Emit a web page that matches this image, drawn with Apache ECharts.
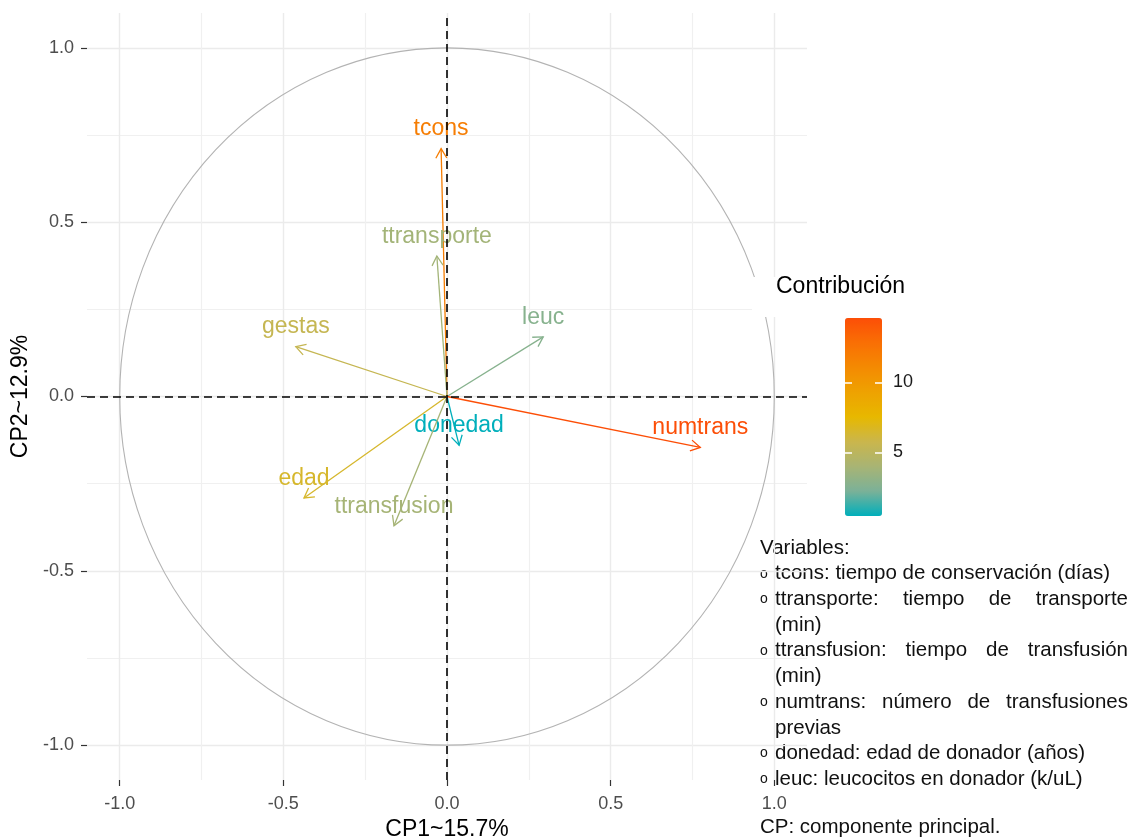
<!DOCTYPE html>
<html>
<head>
<meta charset="utf-8">
<title>Círculo de correlación CP1 / CP2</title>
<script src="https://cdn.jsdelivr.net/npm/echarts@6/dist/echarts.min.js"></script>
<style>
  html, body { margin: 0; padding: 0; background: #fff; }
  #chart { width: 1140px; height: 839px; }
</style>
</head>
<body>
<div id="chart"></div>
<script>
  // variable coordinates on CP1 / CP2 and their contribution
  const varNames = ['tcons', 'ttransporte', 'gestas', 'leuc', 'donedad', 'edad', 'ttransfusion', 'numtrans'];
  const cp1 = [-0.018, -0.031, -0.462, 0.294, 0.037, -0.437, -0.162, 0.774];
  const cp2 = [0.711, 0.403, 0.143, 0.171, -0.14, -0.291, -0.371, -0.146];
  const contrib = [11.9, 3.8, 5.5, 2.7, 0.45, 6.5, 3.9, 14.6];

  // unit circle: center x, center y, radius
  const circleData = [[0, 0, 1]];

  const axisTicks = [-1, -0.5, 0, 0.5, 1];
  const minorTicks = [-0.75, -0.25, 0.25, 0.75];
  const contribTicks = [5, 10];

  // gradient teal -> yellow -> orange (Lab-like stops)
  const gradientCols = ['#00AFBB', '#7BB198', '#A8B474', '#CAB64C', '#E7B800', '#EEA201', '#F48A02', '#F96F04', '#FC4E07'];

  const noteLines = [
    { text: 'tcons: tiempo de conservación (días)', bullet: true },
    { text: 'ttransporte: tiempo de transporte', bullet: true, justify: true },
    { text: '(min)' },
    { text: 'ttransfusion: tiempo de transfusión', bullet: true, justify: true },
    { text: '(min)' },
    { text: 'numtrans: número de transfusiones', bullet: true, justify: true },
    { text: 'previas' },
    { text: 'donedad: edad de donador (años)', bullet: true },
    { text: 'leuc: leucocitos en donador (k/uL)', bullet: true },
  ];

  const FONT = '"Liberation Sans", Arial, sans-serif';
  const NOTE_SIZE = 20.5;

  const arrowData = varNames.map((n, i) => [cp1[i], cp2[i], contrib[i]]);
  const cMin = Math.min(...contrib);
  const cMax = Math.max(...contrib);

  // note block on the right, justified lines spread word by word
  const measureCtx = document.createElement('canvas').getContext('2d');
  measureCtx.font = NOTE_SIZE + 'px ' + FONT;

  const buildNotes = () => {
    const els = [];
    const textLeft = 775;
    const textRight = 1128;
    const top = 548;
    const step = 25.7;
    const txt = (x, y, s, size) => ({
      type: 'text',
      x: x,
      y: y,
      style: {
        text: s,
        fill: '#111',
        fontSize: size || NOTE_SIZE,
        fontFamily: FONT,
        verticalAlign: 'middle',
        align: 'left',
      },
    });
    els.push(txt(760, top, 'Variables:'));
    noteLines.forEach((line, i) => {
      const y = top + step * (i + 1);
      if (line.bullet) {
        els.push(txt(760, y, 'o', 14));
      }
      if (line.justify) {
        const words = line.text.split(' ');
        const widths = words.map((w) => measureCtx.measureText(w).width);
        const total = widths.reduce((a, b) => a + b, 0);
        const gap = (textRight - textLeft - total) / (words.length - 1);
        let x = textLeft;
        words.forEach((w, k) => {
          els.push(txt(x, y, w));
          x += widths[k] + gap;
        });
      } else {
        els.push(txt(textLeft, y, line.text));
      }
    });
    els.push(txt(760, 827, 'CP: componente principal.'));
    return els;
  };

  const chart = echarts.init(document.getElementById('chart'));

  const tickFmt = (v) => v.toFixed(1);

  const majorAxis = (extra, labelMargin) =>
    Object.assign(
      {
        type: 'value',
        gridIndex: 0,
        min: -1.1,
        max: 1.1,
        axisLine: { show: false, onZero: false },
        axisTick: { show: true, customValues: axisTicks, length: 6, lineStyle: { color: '#333', width: 1.2 } },
        axisLabel: { customValues: axisTicks, color: '#4D4D4D', fontSize: 18, fontFamily: FONT, margin: labelMargin, formatter: tickFmt },
        splitLine: { show: true, lineStyle: { color: '#EBEBEB', width: 1.4 } },
        nameTextStyle: { color: '#000', fontSize: 23, fontFamily: FONT },
      },
      extra
    );

  const minorAxis = () => ({
    type: 'value',
    gridIndex: 0,
    min: -1.1,
    max: 1.1,
    axisLine: { show: false, onZero: false },
    axisTick: { show: false, customValues: minorTicks },
    axisLabel: { show: false },
    splitLine: { show: true, lineStyle: { color: '#F0F0F0', width: 1.2 } },
  });

  const barAxis = (pos, showLabel) => ({
    type: 'value',
    gridIndex: 1,
    position: pos,
    min: cMin,
    max: cMax,
    z: 10,
    axisLine: { show: false, onZero: false },
    axisTick: { show: true, inside: true, customValues: contribTicks, length: 7, lineStyle: { color: '#fff', width: 1.5 } },
    axisLabel: { show: showLabel, customValues: contribTicks, margin: 11, color: '#1A1A1A', fontSize: 18, fontFamily: FONT },
    splitLine: { show: false },
  });

  const option = {
    animation: false,
    backgroundColor: '#fff',
    textStyle: { fontFamily: FONT },
    grid: [
      { left: 87, top: 13, width: 720, height: 767, outerBoundsMode: 'none', containLabel: false },
      { left: 845, top: 318, width: 37, height: 198, outerBoundsMode: 'none', containLabel: false },
    ],
    xAxis: [
      majorAxis({ name: 'CP1~15.7%', nameLocation: 'middle', nameGap: 38 }, 15),
      minorAxis(),
      { type: 'value', gridIndex: 1, show: false },
    ],
    yAxis: [
      majorAxis({ name: 'CP2~12.9%', nameLocation: 'middle', nameGap: 44 }, 13),
      minorAxis(),
      barAxis('left', false),
      barAxis('right', true),
    ],
    visualMap: {
      type: 'continuous',
      seriesIndex: 1,
      dimension: 2,
      min: cMin,
      max: cMax,
      calculable: false,
      hoverLink: false,
      orient: 'vertical',
      left: 845,
      top: 318,
      padding: 0,
      itemWidth: 37,
      itemHeight: 198,
      inRange: { color: gradientCols },
    },
    series: [
      {
        // correlation circle
        type: 'custom',
        xAxisIndex: 0,
        yAxisIndex: 0,
        z: 1,
        silent: true,
        data: circleData,
        renderItem: (params, api) => {
          const c = api.coord([api.value(0), api.value(1)]);
          const s = api.size([api.value(2), api.value(2)]);
          const rx = s[0];
          const ry = s[1];
          const d =
            `M ${c[0] - rx} ${c[1]} A ${rx} ${ry} 0 1 0 ${c[0] + rx} ${c[1]} ` +
            `A ${rx} ${ry} 0 1 0 ${c[0] - rx} ${c[1]} Z`;
          return {
            type: 'path',
            shape: { pathData: d },
            style: { fill: 'none', stroke: '#B3B3B3', lineWidth: 1.1 },
          };
        },
      },
      {
        // variable arrows
        type: 'custom',
        xAxisIndex: 0,
        yAxisIndex: 0,
        z: 2,
        silent: true,
        data: arrowData,
        renderItem: (params, api) => {
          const o = api.coord([0, 0]);
          const p = api.coord([api.value(0), api.value(1)]);
          const color = api.visual('color');
          const ang = Math.atan2(p[1] - o[1], p[0] - o[0]);
          const h = 11;
          const a = Math.PI / 6;
          const h1 = [p[0] - h * Math.cos(ang - a), p[1] - h * Math.sin(ang - a)];
          const h2 = [p[0] - h * Math.cos(ang + a), p[1] - h * Math.sin(ang + a)];
          return {
            type: 'group',
            children: [
              {
                type: 'line',
                shape: { x1: o[0], y1: o[1], x2: p[0], y2: p[1] },
                style: { stroke: color, lineWidth: 1.3 },
              },
              {
                type: 'polyline',
                shape: { points: [h1, p, h2] },
                style: { stroke: color, fill: 'none', lineWidth: 1.3 },
              },
              {
                type: 'text',
                x: p[0],
                y: p[1] - 8,
                style: {
                  text: varNames[params.dataIndex],
                  fill: color,
                  fontSize: 23,
                  fontFamily: FONT,
                  align: 'center',
                  verticalAlign: 'bottom',
                },
              },
            ],
          };
        },
      },
      {
        // dashed axes through the origin
        type: 'line',
        xAxisIndex: 0,
        yAxisIndex: 0,
        data: [],
        silent: true,
        markLine: {
          silent: true,
          symbol: ['none', 'none'],
          label: { show: false },
          lineStyle: { color: '#000', type: [8, 5], width: 1.6 },
          emphasis: { disabled: true },
          data: [{ xAxis: 0 }, { yAxis: 0 }],
        },
      },
    ],
    graphic: [
      {
        type: 'rect',
        shape: { x: 752, y: 277, width: 388, height: 40 },
        style: { fill: '#fff' },
        z: 5,
      },
      {
        type: 'text',
        x: 776,
        y: 287,
        z: 6,
        style: { text: 'Contribución', fill: '#000', fontSize: 23, fontFamily: FONT, verticalAlign: 'middle' },
      },
      {
        type: 'group',
        z: 6,
        children: buildNotes(),
      },
    ],
  };

  chart.setOption(option);
  window.addEventListener('resize', () => chart.resize());
</script>
</body>
</html>
